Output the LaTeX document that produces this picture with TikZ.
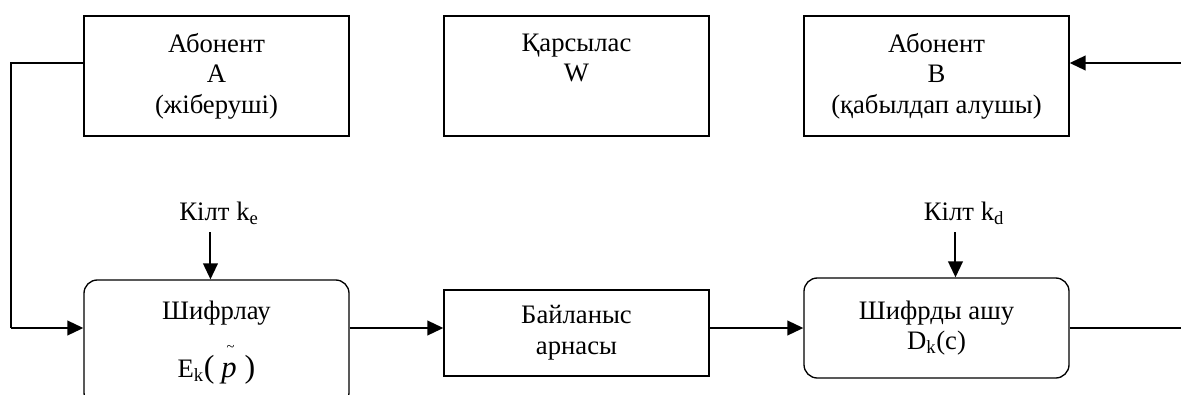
\documentclass[tikz,border=0pt]{standalone}
\usepackage{fontspec}
\setmainfont{Liberation Serif}
\usetikzlibrary{arrows.meta}
\usetikzlibrary{positioning}

\begin{document}
\begin{tikzpicture}[x=0.75pt, y=0.75pt,
    txt/.style={font=\fontsize{20}{23}\selectfont},
    box/.style={txt, draw, line width=1pt, minimum width=198.75pt, minimum height=90pt, inner sep=0pt, align=center},
    rbox/.style={box, rounded corners=10pt},
    arr/.style={-{Triangle[length=12pt, width=11pt]}, line width=1.5pt},
    wire/.style={line width=1pt}]
    \useasboundingbox (0,0) rectangle (1181,394);
    \clip (0,0) rectangle (1181,394);

    % top row: the two parties and the adversary
    \node[box] (abA) at (216.5,318) {Абонент\\A\\(жіберуші)};
    \node[box, right=70.25pt of abA] (adv) {Қарсылас\\W\\\phantom{(}};
    \node[box, right=70.25pt of adv] (abB) {Абонент\\B\\(қабылдап алушы)};

    % bottom row: encrypt -> channel -> decrypt
    \node[rbox, minimum height=94.5pt] (enc) at (216.5,51)
        {Шифрлау\\[20.5pt]E\textsubscript{k}{\fontsize{24}{24}\selectfont(}\hspace{5pt}\makebox[0pt][l]{\hspace{4pt}\smash{\raisebox{20pt}{\fontsize{11}{11}\selectfont\textasciitilde}}}{\fontsize{23}{23}\selectfont\itshape p}\hspace{6pt}{\fontsize{24}{24}\selectfont)}};
    \node[box, minimum height=64.5pt] (chan) at (576.5,61) {Байланыс\\арнасы};
    \node[rbox, minimum height=75pt] (dec) at (936.5,66) {Шифрды ашу\\D\textsubscript{k}(c)};

    % keys
    \node[txt, anchor=base] (kE) at (219,174) {Кілт k\textsubscript{e}};
    \node[txt, anchor=base] (kD) at (964,174) {Кілт k\textsubscript{d}};
    \coordinate (kEfoot) at ([xshift=-6.4pt,yshift=-9pt]kE.base);
    \coordinate (kDfoot) at ([xshift=-6.4pt,yshift=-9pt]kD.base);
    \draw[arr] (kEfoot) -- (kEfoot |- enc.north);
    \draw[arr] (kDfoot) -- (kDfoot |- dec.north);

    % connections
    \coordinate (toprow) at (0,331);
    \coordinate (botrow) at (0,66);
    \coordinate (lft) at (11,66);
    \coordinate (rgt) at (1181,66);
    \coordinate (rgtop) at (1181,331);
    \draw[wire] (abA.west |- toprow) -| (lft);
    \draw[arr] (lft) -- (enc.west |- botrow);
    \draw[arr] (enc.east |- botrow) -- (chan.west |- botrow);
    \draw[arr] (chan.east |- botrow) -- (dec.west |- botrow);
    \draw[wire] (dec.east |- botrow) -- (rgt);
    \draw[arr] (rgtop) -- (abB.east |- rgtop);
\end{tikzpicture}
\end{document}
